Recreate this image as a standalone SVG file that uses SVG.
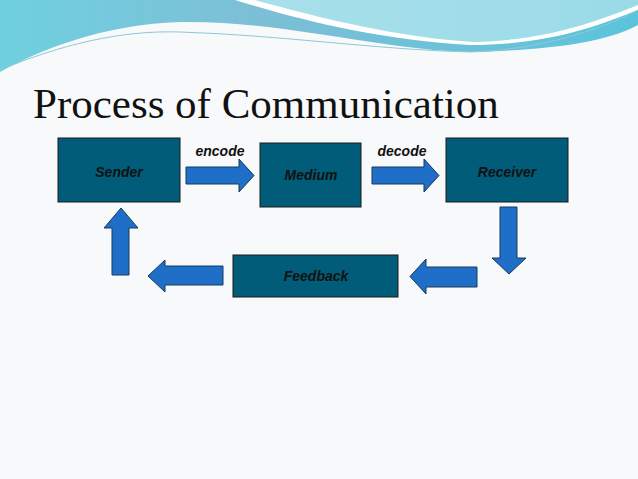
<svg xmlns="http://www.w3.org/2000/svg" width="638" height="479" viewBox="0 0 638 479">
<defs>
<style>
.box{fill:#005c78;stroke:#1a1a1a;stroke-width:1}
.lbl{font-family:"Liberation Sans",Arial,sans-serif;font-style:italic;font-weight:bold;font-size:14px;fill:#111;text-anchor:middle}
.arr{fill:#1f6fc8;stroke:#163a5a;stroke-width:1}
</style>
<linearGradient id="g1" x1="0" y1="0" x2="1" y2="0"><stop offset="0" stop-color="#6fd0e0"/><stop offset="0.4" stop-color="#7dbfd6"/><stop offset="1" stop-color="#5ac4dc"/></linearGradient>
<linearGradient id="g2" x1="0" y1="0" x2="1" y2="0"><stop offset="0" stop-color="#a8e0ea"/><stop offset="1" stop-color="#9adbe8"/></linearGradient>
</defs>
<rect width="638" height="479" fill="#f8f9fa"/>
<path d="M0 0 H638 V25 C600 45 540 50 470 52 C380 50 280 20 180 22 C100 25 40 50 0 72 Z" fill="url(#g1)"/>
<path d="M235 0 C300 20 380 40 470 45 C550 45 600 25 638 10 V0 Z" fill="#ffffff"/>
<path d="M255 0 C320 18 400 38 475 42 C550 40 600 20 638 5 V0 Z" fill="url(#g2)"/>
<path d="M0 70 C60 45 120 30 180 32 C280 35 380 50 470 52 C540 50 600 30 638 10" fill="none" stroke="#8fc8d4" stroke-width="1"/>
<text x="33" y="118" font-family="Liberation Serif,Times New Roman,serif" font-size="43" fill="#111">Process of Communication</text>
<g id="connectors">
<polygon class="arr" points="186,167 239,167 239,159 254,175.5 239,192 239,184 186,184"/>
<polygon class="arr" points="372,167 424,167 424,159 439,175.5 424,192 424,184 372,184"/>
<polygon class="arr" points="500,207 517,207 517,258 526,258 509,274 492,258 500,258"/>
<polygon class="arr" points="477,267 426,267 426,259 410,276.5 426,294 426,287 477,287"/>
<polygon class="arr" points="223,266 165,266 165,260 148,276 165,292 165,285 223,285"/>
<polygon class="arr" points="112,275 129,275 129,228 138,228 121,208 104,228 112,228"/>
<text class="lbl" x="220" y="156">encode</text>
<text class="lbl" x="402" y="156">decode</text>
</g>
<g id="sender"><rect class="box" x="58" y="138" width="122" height="64"/><text class="lbl" x="119" y="177">Sender</text></g>
<g id="medium"><rect class="box" x="260" y="143" width="101" height="64"/><text class="lbl" x="311" y="180">Medium</text></g>
<g id="receiver"><rect class="box" x="446" y="138" width="122" height="64"/><text class="lbl" x="507" y="177">Receiver</text></g>
<g id="feedback"><rect class="box" x="233" y="255" width="165" height="42"/><text class="lbl" x="316" y="281">Feedback</text></g>
</svg>
